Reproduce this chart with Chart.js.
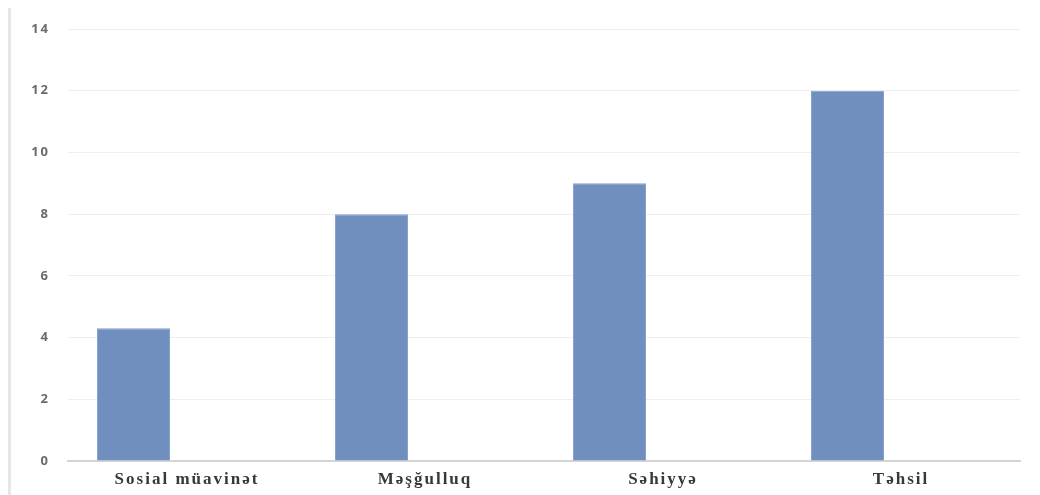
<!DOCTYPE html>
<html>
<head>
<meta charset="utf-8">
<script src="https://cdn.jsdelivr.net/npm/chart.js@4"></script>
<style>
  html, body { margin: 0; padding: 0; background: #fff; }
  #wrap { position: relative; width: 1040px; height: 495px; }
  #edge { position: absolute; left: 8px; top: 8px; width: 3px; height: 487px; background: #e6e6e6; }
  canvas { position: absolute; left: 0; top: 0; }
</style>
</head>
<body>
<div id="wrap">
  <div id="edge"></div>
  <canvas id="c" width="1040" height="495"></canvas>
</div>
<script>
const categories = ["Sosial müavinət", "Məşğulluq", "Səhiyyə", "Təhsil"];
const values = [4.3, 8, 9, 12];
const emptySeries = [null, null, null, null];
const yTicks = [0, 2, 4, 6, 8, 10, 12, 14];

const spacingPlugin = {
  id: 'spacing',
  beforeInit(chart) { if ('letterSpacing' in chart.ctx) chart.ctx.letterSpacing = '2px'; },
  beforeDraw(chart) { if ('letterSpacing' in chart.ctx) chart.ctx.letterSpacing = '2px'; }
};

new Chart(document.getElementById('c'), {
  type: 'bar',
  plugins: [spacingPlugin],
  data: {
    labels: categories,
    datasets: [
      {
        data: values,
        backgroundColor: '#708ebe',
        borderColor: '#86a0cb',
        borderWidth: 1,
        barPercentage: 0.682,
        categoryPercentage: 0.899
      },
      {
        data: emptySeries,
        backgroundColor: '#708ebe',
        barPercentage: 0.682,
        categoryPercentage: 0.899
      }
    ]
  },
  options: {
    responsive: false,
    animation: false,
    layout: { padding: { left: 0, right: 20, top: 29, bottom: 0 } },
    plugins: { legend: { display: false }, tooltip: { enabled: true } },
    scales: {
      x: {
        grid: { display: false },
        border: { display: true, color: '#d4d4d4', width: 2 },
        ticks: {
          padding: 0,
          color: '#383838',
          font: { family: '"Liberation Serif", "Times New Roman", serif', weight: 'bold', size: 17 }
        },
        afterFit: (s) => { s.height = 34; }
      },
      y: {
        min: 0,
        max: 14,
        afterBuildTicks: (s) => { s.ticks = yTicks.map(v => ({ value: v })); },
        grid: { color: '#eeeeee', lineWidth: 1, drawTicks: false },
        border: { display: false },
        ticks: {
          padding: 18,
          color: '#6b6b6b',
          font: { family: '"Open Sans", sans-serif', weight: '700', size: 13 }
        },
        afterFit: (s) => { s.width = 68; }
      }
    }
  }
});
</script>
</body>
</html>
